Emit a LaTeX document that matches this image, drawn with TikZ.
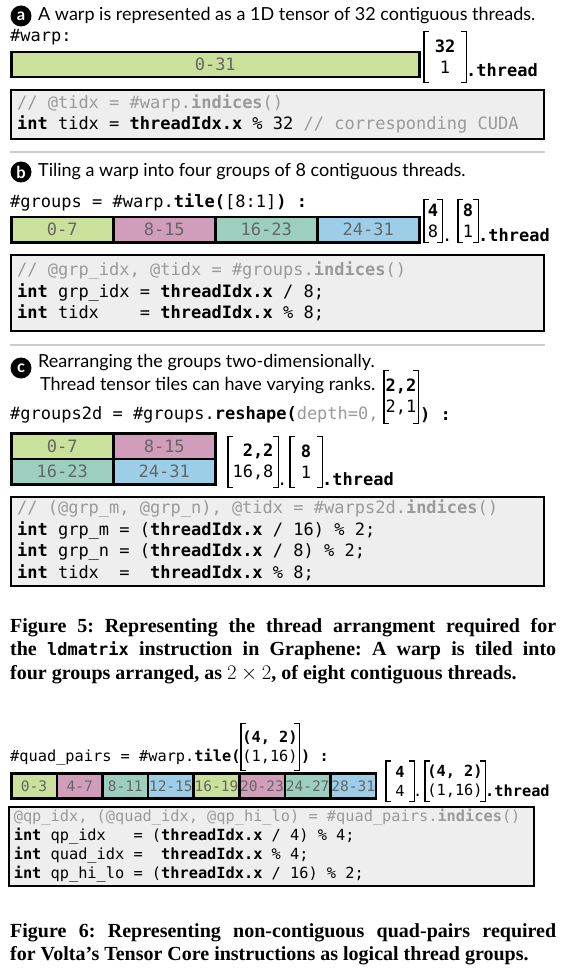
\documentclass[tikz,border=0pt]{standalone}
\usepackage{fontspec}
\setmainfont{Liberation Serif}
\setsansfont{Lato}
\setmonofont{DejaVu Sans Mono}
\usetikzlibrary{positioning}

\definecolor{tgreen}{HTML}{C9E19B}
\definecolor{tpink}{HTML}{D09DBA}
\definecolor{tteal}{HTML}{9CCFBF}
\definecolor{tblue}{HTML}{9DCEE7}
\definecolor{codebg}{HTML}{EEEEEE}
\definecolor{cmtgray}{HTML}{9A9A9A}
\definecolor{sepgray}{HTML}{CCCCCC}
\definecolor{lblgray}{HTML}{666666}

\newcommand{\cmt}[1]{\textcolor{cmtgray}{#1}}
% mono font at a size, with one full cell per space
\newcommand{\monoat}[2]{\fontsize{#1}{#2}\selectfont\ttfamily\spaceskip=0.602em\relax}
% code lines, flush left in a box of given width
\newcommand{\codelines}[2]{\makebox[#1][l]{\begin{tabular}{@{}l@{}}#2\end{tabular}}}
% square brackets round a shape node
\newcommand{\tbrk}[1]{%
  \draw[brk] ([xshift=5pt]#1.north west) -- (#1.north west) -- (#1.south west) -- ([xshift=5pt]#1.south west);
  \draw[brk] ([xshift=-5pt]#1.north east) -- (#1.north east) -- (#1.south east) -- ([xshift=-5pt]#1.south east);}

\begin{document}
\begin{tikzpicture}[
  x=1pt, y=-1pt,
  title/.style={anchor=west, inner sep=0, font=\fontsize{18}{22}\selectfont\sffamily},
  badge/.style={circle, fill=black, text=white, inner sep=0, minimum size=21,
                font=\fontsize{16.5}{16.5}\selectfont\sffamily\bfseries},
  mono/.style={anchor=west, inner sep=0, font=\monoat{17}{21}},
  smono/.style={anchor=west, inner sep=0, font=\monoat{15.3}{19}},
  cell/.style={draw, line width=2.5pt, anchor=north west, inner sep=0, text=lblgray,
               font=\monoat{17}{17}},
  scell/.style={cell, font=\monoat{14.5}{14.5}},
  code/.style={draw, line width=2.2pt, fill=codebg, anchor=north west,
               inner xsep=6pt, inner ysep=0, font=\monoat{17}{21.5}},
  scode/.style={code, line width=1.6pt, font=\monoat{15.3}{19.2}},
  mat/.style={inner sep=0, align=center, font=\monoat{17}{21}},
  smat/.style={mat, font=\monoat{15.3}{19}},
  brk/.style={line width=1.4pt},
  sep/.style={sepgray, line width=2pt},
  captxt/.style={anchor=base west, inner sep=0,
                 font=\fontsize{20}{24}\selectfont\bfseries\frenchspacing},
]
\useasboundingbox (0,0) rectangle (569,968);

%% (a) one warp
\node[badge] (ba) at (21,16) {a};
\node[title] (ta) at (38,16) {A warp is represented as a 1D tensor of 32 contiguous threads.};
\node[mono] (warp) at (10,37) {\#warp:};
\node[cell, fill=tgreen, minimum width=408, minimum height=25] (wa) at (10,51) {0-31};
\node[mat, minimum width=42, minimum height=51] (ma) at (445,57) {\textbf{32}\\1};
\tbrk{ma}
\node[mono, anchor=base west] (tha) at (466,77) {\textbf{.thread}};
\node[code, minimum width=533, minimum height=49] (codea) at (10,89)
  {\codelines{521pt}{\cmt{// @tidx = \#warp.\textbf{indices}()}\\
   \textbf{int} tidx = \textbf{threadIdx.x} \% 32 \cmt{// corresponding CUDA}}};

\draw[sep] (10,152) -- (545,152);

%% (b) four groups
\node[badge] (bb) at (21,172) {b};
\node[title] (tb) at (38,172) {Tiling a warp into four groups of 8 contiguous threads.};
\node[mono] (groups) at (10,202) {\#groups = \#warp.\textbf{tile(}[8:1]\textbf{) :}};
\node[cell, fill=tgreen, minimum width=102, minimum height=25] (g1) at (10,216) {0-7};
\node[cell, fill=tpink, minimum width=102, minimum height=25] (g2) at (112,216) {8-15};
\node[cell, fill=tteal, minimum width=102, minimum height=25] (g3) at (214,216) {16-23};
\node[cell, fill=tblue, minimum width=102, minimum height=25] (g4) at (316,216) {24-31};
\node[mat, minimum width=18, minimum height=43] (mb1) at (433,221) {\textbf{4}\\8};
\tbrk{mb1}
\node[mono, anchor=base west] (db) at (442,241) {.};
\node[mat, minimum width=20, minimum height=43] (mb2) at (468,221) {\textbf{8}\\1};
\tbrk{mb2}
\node[mono, anchor=base west] (thb) at (478,241) {\textbf{.thread}};
\node[code, minimum width=533, minimum height=76] (codeb) at (10,254)
  {\codelines{521pt}{\cmt{// @grp\_idx, @tidx = \#groups.\textbf{indices}()}\\
   \textbf{int} grp\_idx = \textbf{threadIdx.x} / 8;\\
   \textbf{int} tidx~~~~= \textbf{threadIdx.x} \% 8;}};

\draw[sep] (10,345) -- (545,345);

%% (c) 2x2 groups
\node[badge] (bc) at (21,368) {c};
\node[title] (tc1) at (38,363) {Rearranging the groups two-dimensionally.};
\node[title] (tc2) at (40,386) {Thread tensor tiles can have varying ranks.};
\node[mono] (groups2d) at (10,415) {\#groups2d = \#groups.\textbf{reshape(}\cmt{depth=0,}};
\node[mat, minimum width=34, minimum height=53] (mc0) at (401,397) {\textbf{2,2}\\2,1};
\tbrk{mc0}
\node[mono] (closec) at (420,415) {\textbf{) :}};
\node[cell, fill=tgreen, minimum width=102, minimum height=25.5] (h1) at (10,432) {0-7};
\node[cell, fill=tpink, minimum width=102, minimum height=25.5] (h2) at (112,432) {8-15};
\node[cell, fill=tteal, minimum width=102, minimum height=25.5] (h3) at (10,457.5) {16-23};
\node[cell, fill=tblue, minimum width=102, minimum height=25.5] (h4) at (112,457.5) {24-31};
\node[mat, align=right, minimum width=50, minimum height=51] (mc1) at (253,462) {\textbf{2,2}\\16,8};
\tbrk{mc1}
\node[mono, anchor=base west] (dc) at (277,485) {.};
\node[mat, minimum width=32, minimum height=51] (mc2) at (306,462) {\textbf{8}\\1};
\tbrk{mc2}
\node[mono, anchor=base west] (thc) at (322,485) {\textbf{.thread}};
\node[code, minimum width=533, minimum height=89] (codec) at (10,496)
  {\codelines{521pt}{\cmt{// (@grp\_m, @grp\_n), @tidx = \#warps2d.\textbf{indices}()}\\
   \textbf{int} grp\_m = (\textbf{threadIdx.x} / 16) \% 2;\\
   \textbf{int} grp\_n = (\textbf{threadIdx.x} / 8) \% 2;\\
   \textbf{int} tidx~~=~~\textbf{threadIdx.x} \% 8;}};

%% Figure 5 caption
\node[captxt] (cap5a) at (10,632) {\makebox[546pt][s]{Figure 5: Representing the thread arrangment required for}};
\node[captxt] (cap5b) at (10,655) {\makebox[546pt][s]{the {\monoat{17}{17}ldmatrix} instruction in Graphene: A warp is tiled into}};
\node[captxt] (cap5c) at (10,679) {four groups arranged, as $2\times 2$, of eight contiguous threads.};

%% quad pairs
\node[smono] (quad) at (10,757) {\#quad\_pairs = \#warp.\textbf{tile(}};
\node[smat, minimum width=58, minimum height=47] (mq0) at (270,747) {\textbf{(4, 2)}\\(1,16)};
\tbrk{mq0}
\node[smono] (closeq) at (301,757) {\textbf{) :}};
\foreach \lab/\col [count=\i from 0] in {0-3/tgreen, 4-7/tpink, 8-11/tteal, 12-15/tblue,
    16-19/tgreen, 20-23/tpink, 24-27/tteal, 28-31/tblue}
  \node[scell, fill=\col, minimum width=45.6, minimum height=25] (q\i) at (10+45.6*\i,772) {\lab};
\node[smat, minimum width=28, minimum height=40] (mq1) at (400,781) {\textbf{4}\\4};
\tbrk{mq1}
\node[smono, anchor=base west] (dq) at (413,796) {.};
\node[smat, minimum width=60, minimum height=40] (mq2) at (455,781) {\textbf{(4, 2)}\\(1,16)};
\tbrk{mq2}
\node[smono, anchor=base west] (thq) at (485,796) {\textbf{.thread}};
\node[scode, minimum width=525, minimum height=79, inner xsep=5pt] (codeq) at (8,806)
  {\codelines{515pt}{\cmt{@qp\_idx, (@quad\_idx, @qp\_hi\_lo) = \#quad\_pairs.\textbf{indices}()}\\
   \textbf{int} qp\_idx~~~= (\textbf{threadIdx.x} / 4) \% 4;\\
   \textbf{int} quad\_idx =~~\textbf{threadIdx.x} \% 4;\\
   \textbf{int} qp\_hi\_lo = (\textbf{threadIdx.x} / 16) \% 2;}};

%% Figure 6 caption
\node[captxt] (cap6a) at (10,937) {\makebox[546pt][s]{Figure 6: Representing non-contiguous quad-pairs required}};
\node[captxt] (cap6b) at (10,960) {for Volta’s Tensor Core instructions as logical thread groups.};
\end{tikzpicture}
\end{document}
